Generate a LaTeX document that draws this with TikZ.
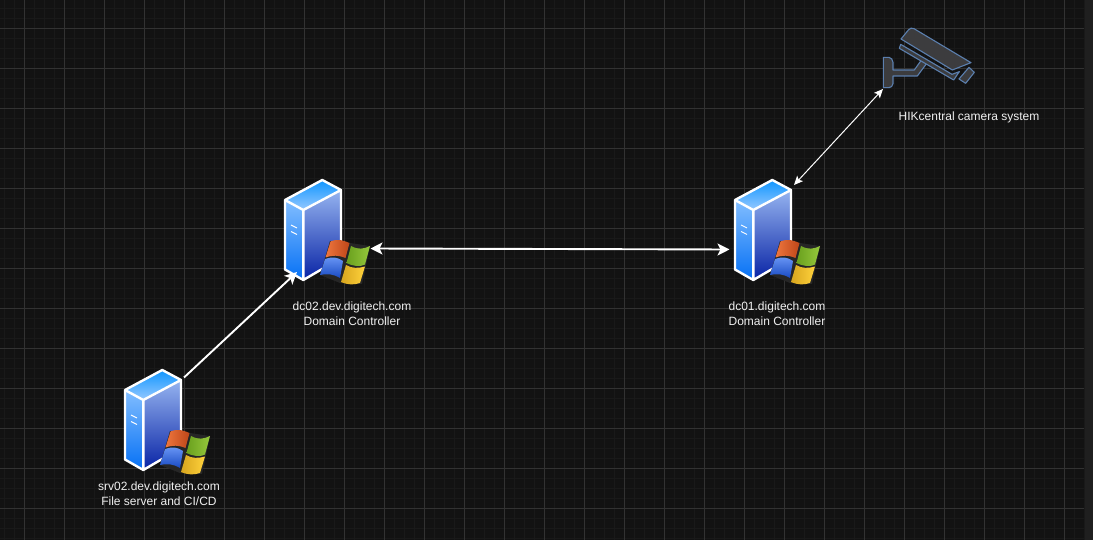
\documentclass[tikz,border=0pt]{standalone}
\usepackage{fontspec}
\setmainfont{Liberation Sans}
\usetikzlibrary{arrows.meta}
\definecolor{bgc}{HTML}{121212}
\definecolor{stripc}{HTML}{1F1F1F}
\definecolor{minorc}{HTML}{191919}
\definecolor{majorc}{HTML}{323232}
\definecolor{txtc}{HTML}{F0F0F0}
\definecolor{camfill}{HTML}{3C3C3E}
\definecolor{camline}{HTML}{5B7FAE}
\definecolor{lfA}{RGB}{130,190,255}
\definecolor{lfB}{RGB}{5,112,245}
\definecolor{rfA}{RGB}{150,180,240}
\definecolor{rfB}{RGB}{8,35,165}
\definecolor{tfA}{RGB}{15,150,255}
\definecolor{tfB}{RGB}{150,200,255}
\definecolor{redA}{RGB}{238,118,62}
\definecolor{redB}{RGB}{190,70,25}
\definecolor{bluA}{RGB}{105,150,245}
\definecolor{bluB}{RGB}{25,75,195}
\definecolor{grnA}{RGB}{105,160,30}
\definecolor{grnB}{RGB}{150,200,60}
\definecolor{yelA}{RGB}{215,165,30}
\definecolor{yelB}{RGB}{255,210,60}
\tikzset{
  x=1pt,y=-1pt,
  port/.style={coordinate},
  lbl/.style={text=txtc,align=center,inner sep=0pt,font=\fontsize{12}{15}\selectfont},
  thicklink/.style={draw=white,line width=1.9pt,{Stealth[length=12pt,width=12pt,inset=3pt]}-{Stealth[length=12pt,width=12pt,inset=3pt]}},
  onelink/.style={draw=white,line width=1.9pt,-{Stealth[length=12pt,width=12pt,inset=3pt]}},
  thinlink/.style={draw=white,line width=1pt,{Stealth[length=9pt,width=8pt,inset=2pt]}-{Stealth[length=9pt,width=8pt,inset=2pt]}},
  cam/.style={fill=camfill,draw=camline,line width=1.1pt,line join=round},
  minorline/.style={minorc,line width=1pt},
  majorline/.style={majorc,line width=1pt},
  winserver/.pic={
    \shade[top color=lfA,bottom color=lfB]
      (285,200) -- (303.3,210) -- (303.3,280) -- (285,269.5) -- cycle;
    \shade[top color=rfA,bottom color=rfB]
      (303.3,210) -- (341,190) -- (341,258) -- (303.3,280) -- cycle;
    \shade[top color=tfA,bottom color=tfB]
      (285,200) -- (322.3,180) -- (341,190) -- (303.3,210) -- cycle;
    \draw[white,line width=2.4pt,line join=round]
      (285,200) -- (322.3,180) -- (341,190) -- (341,258) -- (303.3,280) -- (285,269.5) -- cycle
      (285,200) -- (303.3,210) -- (341,190)
      (303.3,210) -- (303.3,280);
    \draw[white,line width=.9pt] (291,225) -- (297,228) (291,231.5) -- (297,234.5);
    \fill[black!85] (330,241) -- (350,243) -- (370,246) -- (362,284) -- (340,283) -- (320,275) -- cycle;
    \shade[left color=redA,right color=redB]
      (330.5,241.5) .. controls (338,238.5) and (342,240) .. (349.5,243)
      -- (345.5,258)  .. controls (338,255) and (333,255) .. (325.5,257.5) -- cycle;
    \shade[top color=bluA,bottom color=bluB]
      (325,259) .. controls (333,256.5) and (337,257) .. (343,261)
      -- (340,278)  .. controls (333,274) and (328,273.5) .. (320,275) -- cycle;
    \shade[left color=grnA,right color=grnB]
      (351,246) .. controls (358,250) and (364,249) .. (370,246)
      -- (365,264.5) .. controls (360,267) and (354,266.5) .. (346.5,263) -- cycle;
    \shade[left color=yelA,right color=yelB]
      (346,265) .. controls (352,268.5) and (358,268.5) .. (365,266.5)
      -- (360,283) .. controls (354,285) and (348,285) .. (341,282) -- cycle;
  }
}
\begin{document}
\begin{tikzpicture}
\useasboundingbox (0,0) rectangle (1093,540);
\fill[bgc] (0,0) rectangle (1093,540);
\fill[stripc] (1084.5,0) rectangle (1093,540);
\foreach \k in {0,...,108}{\draw[minorline] ({4.5+10*\k},0) -- ({4.5+10*\k},540);}
\foreach \k in {0,...,53}{\draw[minorline] (0,{8.5+10*\k}) -- (1084,{8.5+10*\k});}
\foreach \k in {0,...,26}{\draw[majorline] ({24.5+40*\k},0) -- ({24.5+40*\k},540);}
\foreach \k in {0,...,12}{\draw[majorline] (0,{28.5+40*\k}) -- (1084,{28.5+40*\k});}

\pic (dc02icon) at (0,0) {winserver};
\pic (dc01icon) at (450,0) {winserver};
\pic (srv02icon) at (-160,190) {winserver};

\begin{scope}[shift={(870,15)},x=0.3333pt,y=-0.3333pt]
  \path[cam] (40,127) -- (57,127) .. controls (64,128) and (68,134) .. (69,142) -- (69,165) -- (133,165)
     -- (155,134) -- (171,144) -- (142,183) -- (69,183) -- (69,206) .. controls (68,213) and (63,218) .. (57,218) -- (40,218) -- cycle;
  \path[cam] (92,88) -- (246,178) -- (268,170) -- (251,195) -- (88,100) -- cycle;
  \path[cam] (93,72) -- (116,44) .. controls (120,39) and (126,38) .. (132,41) -- (303,143) -- (247,165) -- cycle;
  \path[cam] (297,157) -- (313,172) -- (287,205) -- (267,192) -- cycle;
\end{scope}

\node[lbl] (dc02) at (352,313.5) {dc02.dev.digitech.com\\Domain Controller};
\node[lbl] (dc01) at (777,313.5) {dc01.digitech.com\\Domain Controller};
\node[lbl] (srv02) at (159,493.5) {srv02.dev.digitech.com\\File server and CI/CD};
\node[lbl] (hik) at (969,117.7) {HIKcentral camera system};

\node[port] (srv02ne) at (184,377.5) {};
\node[port] (dc02sw) at (297,272) {};
\node[port] (dc02e) at (370.5,248.5) {};
\node[port] (dc01w) at (729.5,249.5) {};
\node[port] (dc01ne) at (794,185) {};
\node[port] (camsw) at (883,89) {};

\draw[onelink] (srv02ne) -- (dc02sw);
\draw[thicklink] (dc02e) -- (dc01w);
\draw[thinlink] (dc01ne) -- (camsw);
\end{tikzpicture}
\end{document}
